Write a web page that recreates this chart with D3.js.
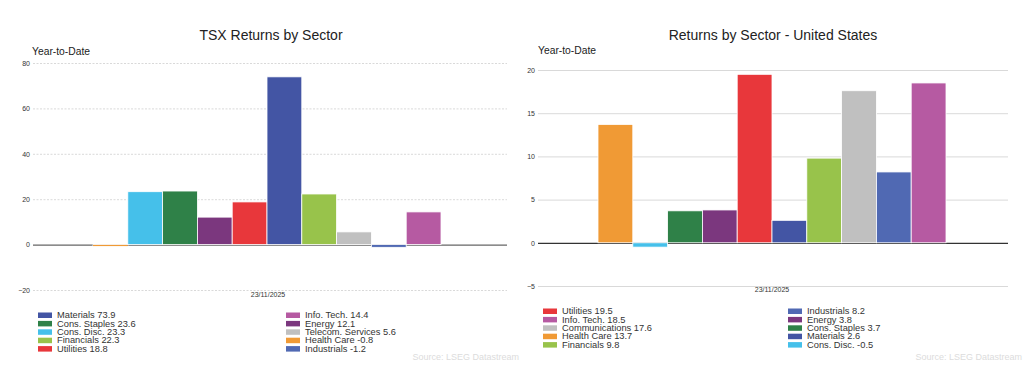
<!DOCTYPE html>
<html><head><meta charset="utf-8">
<script src="https://cdn.jsdelivr.net/npm/d3@7"></script>
<style>body{margin:0;background:#fff}svg{display:block;font-family:"Liberation Sans",Arial,sans-serif}</style>
</head><body><svg id="c" width="1035" height="391"></svg>
<script>
// ---- data ----
const sectorsTSX = ["Health Care","Cons. Disc.","Cons. Staples","Energy","Utilities","Materials","Financials","Telecom. Services","Industrials","Info. Tech."];
const valuesTSX  = [-0.8, 23.3, 23.6, 12.1, 18.8, 73.9, 22.3, 5.6, -1.2, 14.4];
const ticksTSX   = [-20, 0, 20, 40, 60, 80];

const sectorsUS = ["Health Care","Cons. Disc.","Cons. Staples","Energy","Utilities","Materials","Financials","Communications","Industrials","Info. Tech."];
const valuesUS  = [13.7, -0.5, 3.7, 3.8, 19.5, 2.6, 9.8, 17.6, 8.2, 18.5];
const ticksUS   = [-5, 0, 5, 10, 15, 20];

const dateLabel = "23/11/2025";
const sourceText = "Source: LSEG Datastream";

const colorMap = {
  "Health Care":"#f09a35","Cons. Disc.":"#45c0ea","Cons. Staples":"#2f8148","Energy":"#7b377e",
  "Utilities":"#e8373b","Materials":"#4355a4","Financials":"#98c34b","Telecom. Services":"#c0c0c0",
  "Communications":"#c0c0c0","Industrials":"#5069b3","Info. Tech.":"#b65aa2"
};

const svg = d3.select("#c");

function drawChart(o){
  const g = svg.append("g");
  const y = d3.scaleLinear().domain(o.domain).range([o.yBottom, o.yTop]);
  const x = d3.scaleBand().domain(o.cats).range(o.barRange).paddingInner(0);

  g.append("text").attr("x", o.titleX).attr("y", 40).attr("text-anchor","middle")
    .attr("font-size", 14).attr("fill","#222").text(o.title);
  g.append("text").attr("x", o.ytdX).attr("y", o.ytdY).attr("font-size", 10.3).attr("fill","#222").text("Year-to-Date");

  // gridlines + tick labels
  const axis = d3.axisLeft(y).tickValues(o.ticks).tickSize(-(o.plotX[1]-o.plotX[0])).tickFormat(d3.format("d"));
  const ag = g.append("g").attr("transform", `translate(${o.plotX[0]},0)`).call(axis);
  ag.select(".domain").remove();
  ag.selectAll(".tick line").attr("stroke", d => d===0 ? o.zeroColor : "#cfcfcf")
    .attr("stroke-width", d => d===0 ? 1.2 : 0.8)
    .attr("stroke-dasharray", d => (d!==0 && o.dotted) ? "2,1.5" : null);
  ag.selectAll(".tick text").attr("x", -3).attr("font-size", 7).attr("fill","#333")
    .attr("font-family","Liberation Sans, Arial, sans-serif");

  // bars
  g.append("g").selectAll("rect").data(o.cats.map((c,i)=>({c, v:o.vals[i]}))).join("rect")
    .attr("x", d => x(d.c)).attr("width", x.bandwidth())
    .attr("y", d => y(Math.max(0,d.v))).attr("height", d => Math.max(1.2, Math.abs(y(d.v)-y(0))))
    .attr("fill", d => colorMap[d.c]).attr("stroke","#fff").attr("stroke-width",0.8);

  g.append("text").attr("x", o.dateX).attr("y", o.dateY).attr("text-anchor","middle")
    .attr("font-size", 7).attr("fill","#333").text(dateLabel);

  // legend sorted by value desc, 2 columns of 5
  const items = o.cats.map((c,i)=>({c, v:o.vals[i]})).sort((a,b)=>b.v-a.v);
  items.forEach((d,i)=>{
    const col = Math.floor(i/5), row = i%5;
    const cy = o.legY + row*8.4;
    g.append("rect").attr("x", o.legX[col]).attr("y", cy-2.5).attr("width", 14).attr("height", 5.5)
      .attr("fill", colorMap[d.c]);
    g.append("text").attr("x", o.legX[col]+19).attr("y", cy+3.2).attr("font-size", 9.3)
      .attr("fill","#333").text(d.c + " " + d.v.toFixed(1));
  });

  g.append("text").attr("x", o.srcX).attr("y", 360).attr("text-anchor","end")
    .attr("font-size", 9).attr("fill","#dcdcdc").text(sourceText);
}

drawChart({title:"TSX Returns by Sector", titleX:271, ytdX:32, ytdY:55,
  cats:sectorsTSX, vals:valuesTSX, ticks:ticksTSX, domain:[-20,80], yBottom:290, yTop:63,
  plotX:[33,507], barRange:[93,441], dotted:true, zeroColor:"#666", dateX:268, dateY:297,
  legX:[38,286], legY:315, srcX:519});

drawChart({title:"Returns by Sector - United States", titleX:773, ytdX:538, ytdY:54,
  cats:sectorsUS, vals:valuesUS, ticks:ticksUS, domain:[-5,20], yBottom:286, yTop:70,
  plotX:[538,1008], barRange:[598,946], dotted:false, zeroColor:"#333", dateX:772, dateY:292,
  legX:[543,788], legY:311, srcX:1022});
</script></body></html>
